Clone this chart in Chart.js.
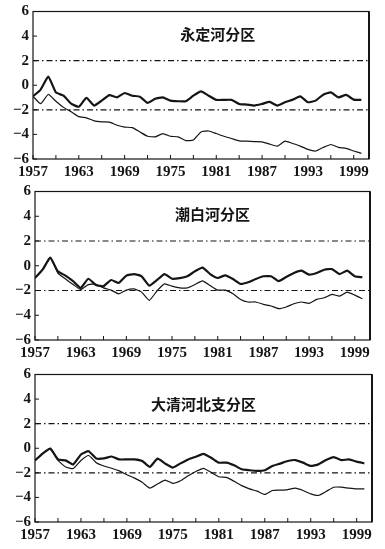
<!DOCTYPE html>
<html>
<head>
<meta charset="utf-8">
<script src="https://cdn.jsdelivr.net/npm/chart.js@4"></script>
<style>
  html, body { margin: 0; padding: 0; background: #fff; }
  .panel { position: absolute; left: 0; }
</style>
</head>
<body>
<canvas id="c1" class="panel" width="385" height="183" style="top:0px"></canvas>
<canvas id="c2" class="panel" width="385" height="186" style="top:180px"></canvas>
<canvas id="c3" class="panel" width="385" height="186" style="top:363px"></canvas>
<script>
// ---------------------------------------------------------------------------
// Data
// ---------------------------------------------------------------------------
const years = [1957, 1958, 1959, 1960, 1961, 1962, 1963, 1964, 1965, 1966, 1967,
    1968, 1969, 1970, 1971, 1972, 1973, 1974, 1975, 1976, 1977, 1978, 1979, 1980,
    1981, 1982, 1983, 1984, 1985, 1986, 1987, 1988, 1989, 1990, 1991, 1992, 1993,
    1994, 1995, 1996, 1997, 1998, 1999, 2000];

const tickYears = [1957, 1960, 1963, 1966, 1969, 1972, 1975, 1978, 1981, 1984,
    1987, 1990, 1993, 1996, 1999];
const labelYears = [1957, 1963, 1969, 1975, 1981, 1987, 1993, 1999];
const yTicks = [-6, -4, -2, 0, 2, 4, 6];
const refLevels = [2, -2];

const titles = ['永定河分区', '潮白河分区', '大清河北支分区'];

// 永定河分区
const yongdingUpper = [-0.9, -0.35, 0.7, -0.58, -0.85, -1.5, -1.75, -1.02, -1.65, -1.25,
    -0.8, -0.98, -0.63, -0.85, -0.93, -1.44, -1.1, -0.98, -1.25, -1.3, -1.3, -0.85, -0.5,
    -0.85, -1.19, -1.19, -1.19, -1.52, -1.57, -1.65, -1.52, -1.36, -1.65, -1.38, -1.17,
    -0.9, -1.38, -1.25, -0.77, -0.58, -0.98, -0.79, -1.17, -1.19];
const yongdingLower = [-0.9, -1.5, -0.75, -1.3, -1.8, -2.15, -2.55, -2.65, -2.9, -2.98,
    -3.0, -3.25, -3.4, -3.45, -3.8, -4.15, -4.2, -3.93, -4.15, -4.2, -4.5, -4.45, -3.8,
    -3.72, -3.93, -4.15, -4.33, -4.52, -4.55, -4.58, -4.6, -4.79, -4.95, -4.55, -4.74,
    -4.95, -5.22, -5.35, -5.06, -4.82, -5.06, -5.14, -5.35, -5.54];

// 潮白河分区
const chaobaiUpper = [-0.99, -0.32, 0.65, -0.45, -0.8, -1.25, -1.79, -1.05, -1.55, -1.65,
    -1.15, -1.39, -0.8, -0.67, -0.85, -1.6, -1.17, -0.67, -1.05, -1.0, -0.85, -0.45, -0.15,
    -0.67, -0.99, -0.77, -1.07, -1.47, -1.33, -1.07, -0.85, -0.85, -1.25, -0.91, -0.59,
    -0.4, -0.72, -0.59, -0.32, -0.27, -0.67, -0.4, -0.85, -0.93];
const chaobaiLower = [-0.99, -0.32, 0.65, -0.59, -1.07, -1.52, -1.92, -1.52, -1.5, -1.79,
    -1.97, -2.27, -1.97, -1.87, -2.13, -2.8, -2.05, -1.47, -1.65, -1.79, -1.79, -1.52, -1.22,
    -1.6, -1.97, -1.97, -2.27, -2.72, -2.93, -2.93, -3.12, -3.25, -3.47, -3.33, -3.07,
    -2.93, -3.04, -2.72, -2.59, -2.32, -2.45, -2.13, -2.37, -2.67];

// 大清河北支分区
const daqingUpper = [-0.99, -0.43, -0.03, -0.91, -0.99, -1.31, -0.51, -0.24, -0.83, -0.83,
    -0.67, -0.91, -0.91, -0.91, -1.04, -1.52, -0.85, -1.25, -1.57, -1.23, -0.91, -0.69, -0.45,
    -0.77, -1.17, -1.17, -1.39, -1.71, -1.79, -1.84, -1.79, -1.44, -1.25, -1.04, -0.96,
    -1.17, -1.44, -1.31, -0.96, -0.72, -0.96, -0.91, -1.09, -1.23];
const daqingLower = [-0.99, -0.43, -0.03, -0.99, -1.52, -1.65, -0.99, -0.59, -1.17, -1.44,
    -1.63, -1.84, -2.16, -2.43, -2.77, -3.25, -2.91, -2.59, -2.85, -2.64, -2.24, -1.89, -1.63,
    -1.97, -2.32, -2.37, -2.69, -3.04, -3.31, -3.49, -3.76, -3.44, -3.41, -3.36, -3.25,
    -3.44, -3.71, -3.84, -3.52, -3.17, -3.17, -3.25, -3.31, -3.31];

// ---------------------------------------------------------------------------
// Helpers
// ---------------------------------------------------------------------------
const INK = '#151515';
const X_MIN = 1957;
const X_MAX = 2001;
const tickFont = {
    family: '"Liberation Serif", "DejaVu Serif", serif',
    size: 15,
    weight: 'bold',
    lineHeight: 1.0
};

function toPoints(values) {
    return values.map((v, i) => ({ x: years[i], y: v }));
}

// Frame, inward tick marks and the panel title
const panelDecor = {
    id: 'panelDecor',
    afterDraw(chart, args, opts) {
        const { ctx, chartArea: a, scales } = chart;
        ctx.save();
        ctx.strokeStyle = INK;
        ctx.lineWidth = 1.2;
        ctx.strokeRect(a.left, a.top, a.right - a.left, a.bottom - a.top);
        ctx.lineWidth = 2;
        ctx.beginPath();
        ctx.moveTo(a.right, a.top);
        ctx.lineTo(a.right, a.bottom);
        ctx.stroke();

        ctx.lineWidth = 1;
        ctx.beginPath();
        tickYears.forEach(v => {
            const px = scales.x.getPixelForValue(v);
            ctx.moveTo(px, a.bottom);
            ctx.lineTo(px, a.bottom - 4);
        });
        yTicks.forEach(v => {
            const py = scales.y.getPixelForValue(v);
            ctx.moveTo(a.left, py);
            ctx.lineTo(a.left + 4, py);
        });
        ctx.stroke();

        ctx.fillStyle = INK;
        ctx.font = 'bold 15px "Noto Sans CJK SC", sans-serif';
        ctx.textAlign = 'center';
        ctx.textBaseline = 'middle';
        ctx.fillText(opts.text, a.left + (a.right - a.left) * opts.tx, a.top + opts.ty);
        ctx.restore();
    }
};

function makePanel(canvasId, title, upper, lower, geo) {
    const refSets = refLevels.map(level => ({
        data: [{ x: X_MIN, y: level }, { x: X_MAX, y: level }],
        borderColor: INK,
        borderWidth: 1.1,
        borderDash: [6, 3, 1.5, 3],
        pointRadius: 0
    }));

    new Chart(document.getElementById(canvasId), {
        type: 'line',
        data: {
            datasets: [
                {
                    data: toPoints(upper),
                    borderColor: INK,
                    borderWidth: 2.2,
                    pointRadius: 0,
                    tension: 0.15
                },
                {
                    data: toPoints(lower),
                    borderColor: INK,
                    borderWidth: 1.2,
                    pointRadius: 0,
                    tension: 0.15
                },
                ...refSets
            ]
        },
        options: {
            responsive: false,
            animation: false,
            events: [],
            layout: {
                padding: { top: 10, right: 385 - geo.right, left: 0, bottom: 0 }
            },
            plugins: {
                legend: { display: false },
                tooltip: { enabled: false },
                panelDecor: { text: title, tx: geo.tx, ty: geo.ty }
            },
            scales: {
                x: {
                    type: 'linear',
                    min: X_MIN,
                    max: X_MAX,
                    grid: { display: false, drawTicks: false },
                    border: { display: false },
                    afterBuildTicks: scale => {
                        scale.ticks = tickYears.map(v => ({ value: v }));
                    },
                    afterFit: scale => { scale.height = geo.xh; },
                    ticks: {
                        autoSkip: false,
                        maxRotation: 0,
                        padding: 6,
                        color: INK,
                        font: tickFont,
                        callback: v => labelYears.includes(v) ? String(v) : ''
                    }
                },
                y: {
                    min: -6,
                    max: 6,
                    grid: { display: false, drawTicks: false },
                    border: { display: false },
                    afterBuildTicks: scale => {
                        scale.ticks = yTicks.map(v => ({ value: v }));
                    },
                    afterFit: scale => { scale.width = geo.left; },
                    ticks: {
                        padding: 4,
                        color: INK,
                        font: tickFont,
                        callback: v => String(v).replace('-', '\u2212')
                    }
                }
            }
        },
        plugins: [panelDecor]
    });
}

makePanel('c1', titles[0], yongdingUpper, yongdingLower,
    { right: 369, left: 33, xh: 24, tx: 0.55, ty: 23 });
makePanel('c2', titles[1], chaobaiUpper, chaobaiLower,
    { right: 370, left: 35, xh: 26, tx: 0.53, ty: 23 });
makePanel('c3', titles[2], daqingUpper, daqingLower,
    { right: 372, left: 35, xh: 27, tx: 0.50, ty: 30 });
</script>
</body>
</html>
